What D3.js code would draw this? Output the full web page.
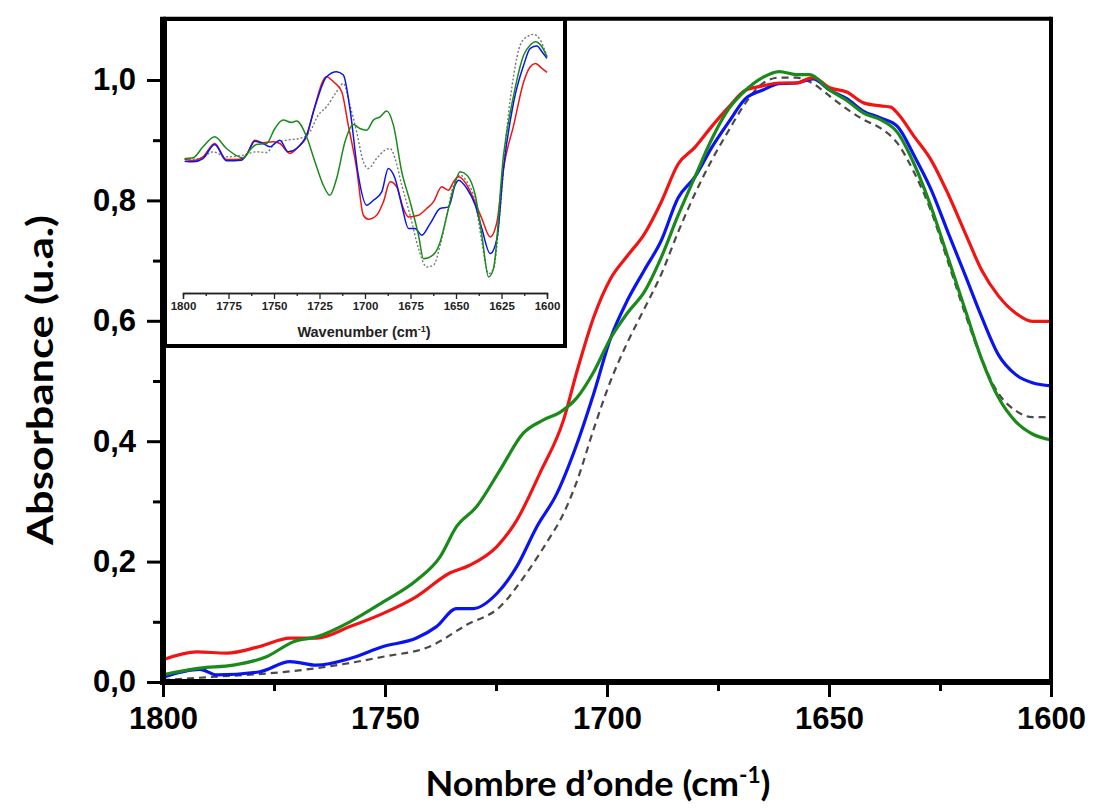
<!DOCTYPE html>
<html><head><meta charset="utf-8">
<script src="https://cdn.jsdelivr.net/npm/d3@7"></script>
<style>body{margin:0;background:#fff;}</style>
</head><body>
<svg id="c" width="1094" height="809"></svg>
<script>
// ---------- DATA (main chart: wavenumber cm-1 / absorbance) ----------
const redWn   = [1800,1792.4,1785.7,1778.2,1771.4,1765.4,1757.9,1750.4,1742.9,1735.4,1730.9,1724.8,1720.3,1715.1,1709.8,1706.8,1703.0,1699.2,1695.4,1691.6,1687.8,1684.0,1680.2,1676.4,1672.6,1668.8,1665.0,1661.2,1657.4,1653.6,1649.8,1646.0,1642.2,1638.4,1636.1,1634.6,1630.8,1627.0,1623.2,1619.4,1615.6,1611.8,1608.0,1604.2,1600];
const redAbs  = [0.037,0.050,0.048,0.059,0.073,0.073,0.092,0.114,0.142,0.181,0.194,0.225,0.269,0.347,0.435,0.515,0.606,0.670,0.708,0.744,0.797,0.860,0.888,0.923,0.955,0.983,0.990,0.995,0.995,1.004,0.987,0.980,0.962,0.957,0.955,0.945,0.906,0.867,0.811,0.747,0.684,0.641,0.613,0.599,0.599];

const blueWn  = [1800,1791.7,1787.9,1778.2,1771.4,1765.4,1757.9,1750.4,1742.9,1738.4,1733.9,1730.1,1724.8,1720.3,1715.8,1711.3,1706.8,1703.0,1699.2,1695.4,1691.6,1687.8,1684.0,1680.2,1676.4,1672.6,1668.8,1665.0,1661.2,1657.4,1653.6,1649.8,1646.0,1642.2,1638.4,1634.6,1630.8,1627.0,1623.2,1619.4,1615.6,1611.8,1608.0,1604.2,1600];
const blueAbs = [0.008,0.021,0.012,0.017,0.034,0.028,0.039,0.059,0.073,0.092,0.122,0.122,0.147,0.192,0.258,0.313,0.395,0.479,0.571,0.634,0.684,0.733,0.804,0.839,0.888,0.930,0.969,0.983,0.994,0.995,1.002,0.983,0.969,0.948,0.937,0.923,0.874,0.818,0.747,0.677,0.606,0.543,0.511,0.497,0.492];

const greenWn  = [1800,1791.7,1784.2,1776.7,1770.6,1765.4,1757.9,1750.4,1742.9,1737.6,1733.9,1729.4,1724.1,1718.9,1714.4,1710.6,1706.8,1703.0,1699.2,1695.4,1691.6,1687.8,1684.0,1680.2,1676.4,1672.6,1668.8,1665.0,1661.2,1657.4,1654.4,1649.8,1646.0,1642.2,1638.4,1634.6,1630.8,1627.0,1623.2,1619.4,1615.6,1611.8,1608.0,1604.2,1600];
const greenAbs = [0.012,0.023,0.028,0.042,0.067,0.075,0.100,0.133,0.169,0.208,0.258,0.291,0.352,0.413,0.435,0.448,0.472,0.515,0.571,0.613,0.648,0.705,0.775,0.839,0.902,0.952,0.983,1.004,1.014,1.009,1.009,0.983,0.966,0.945,0.934,0.913,0.860,0.789,0.705,0.620,0.536,0.472,0.433,0.412,0.402];

const grayWn  = [1800,1787.9,1776.7,1765.4,1750.4,1739.9,1731.6,1724.1,1718.1,1712.8,1710.6,1706.8,1703.0,1699.2,1695.4,1691.6,1687.8,1684.0,1680.2,1676.4,1672.6,1668.8,1665.0,1661.2,1657.4,1653.6,1649.8,1646.0,1642.2,1638.4,1634.6,1630.8,1627.0,1623.2,1619.4,1615.6,1611.8,1608.0,1604.2,1600];
const grayAbs = [0.003,0.009,0.014,0.023,0.042,0.059,0.095,0.125,0.181,0.241,0.268,0.333,0.420,0.500,0.564,0.620,0.677,0.747,0.811,0.867,0.916,0.962,0.994,1.004,1.004,0.994,0.973,0.952,0.934,0.920,0.895,0.846,0.782,0.698,0.613,0.536,0.479,0.451,0.440,0.440];

const xMajorTicks = [1800,1750,1700,1650,1600];
const xMinorTicks = [1775,1725,1675,1625];
const yMajorTicks = [0,0.2,0.4,0.6,0.8,1.0];
const yMajorLabels = ["0,0","0,2","0,4","0,6","0,8","1,0"];
const yMinorTicks = [0.1,0.3,0.5,0.7,0.9];

// ---------- DATA (inset: second derivative, arbitrary units) ----------
const inRedWn = [1799.1,1794.5,1789.0,1782.6,1776.1,1768.8,1765.1,1760.6,1756.0,1750.5,1746.8,1741.3,1735.8,1732.1,1728.4,1721.1,1717.4,1712.8,1709.2,1704.6,1700.9,1698.2,1693.6,1689.9,1686.2,1682.6,1678.9,1676.1,1670.6,1666.1,1662.4,1657.8,1654.1,1651.4,1648.6,1644.0,1640.4,1635.8,1631.2,1627.5,1623.9,1618.3,1612.8,1609.2,1606.4,1602.8,1600.0];
const inRedV  = [-0.02,-0.06,0.05,0.45,-0.03,-0.02,0.10,0.55,0.47,0.50,0.45,0.15,0.40,0.65,1.40,2.45,2.30,2.00,1.00,-0.30,-1.70,-1.82,-1.70,-1.30,-0.70,-0.85,-1.50,-1.75,-1.70,-1.50,-1.30,-0.85,-0.95,-0.70,-0.55,-0.80,-1.20,-1.80,-2.35,-1.90,-0.30,1.00,2.30,2.75,2.85,2.70,2.58];

const inBlueWn = [1799.1,1794.5,1789.0,1782.6,1776.1,1767.9,1764.2,1760.6,1756.0,1752.3,1746.8,1742.2,1737.6,1732.1,1727.5,1721.1,1715.6,1711.9,1708.3,1703.7,1699.1,1695.4,1690.8,1687.2,1683.5,1679.8,1676.1,1672.5,1668.8,1664.2,1658.7,1654.1,1650.5,1648.6,1644.0,1639.4,1635.8,1631.2,1627.5,1623.9,1618.3,1612.8,1609.2,1605.5,1602.8,1600.0];
const inBlueV  = [-0.08,-0.10,0.00,0.42,-0.07,-0.05,0.20,0.52,0.45,0.35,0.55,0.20,0.30,0.70,1.55,2.45,2.60,2.50,1.50,-0.50,-1.40,-1.25,-1.00,-0.30,-0.60,-1.40,-2.10,-2.10,-2.30,-1.95,-1.50,-1.45,-0.80,-0.65,-0.90,-1.40,-2.10,-2.85,-2.40,-0.30,1.70,2.80,3.30,3.37,3.20,3.00];

const inGreenWn = [1799.1,1794.5,1789.0,1782.6,1776.1,1767.0,1763.3,1759.6,1754.1,1749.5,1745.0,1740.4,1737.6,1732.1,1727.5,1722.9,1719.3,1715.6,1711.0,1706.4,1702.8,1699.1,1695.4,1691.7,1688.1,1684.4,1679.8,1675.2,1670.6,1667.9,1662.4,1658.7,1655.0,1651.4,1647.7,1644.0,1639.4,1635.8,1632.1,1629.4,1623.9,1618.3,1612.8,1609.2,1606.4,1602.8,1600.0];
const inGreenV  = [0.00,0.02,0.35,0.65,0.30,0.02,0.25,0.42,0.45,0.90,1.15,1.08,1.12,0.65,-0.10,-0.80,-1.10,-0.60,0.50,1.02,0.90,0.85,1.15,1.25,1.42,1.00,-0.40,-1.30,-2.30,-3.00,-2.88,-2.50,-1.70,-0.90,-0.40,-0.50,-1.10,-2.30,-3.55,-3.30,0.10,1.90,3.10,3.40,3.50,3.35,3.05];

const inGrayWn = [1799.1,1790.8,1783.5,1776.1,1767.0,1759.6,1754.1,1749.5,1743.1,1735.8,1730.3,1725.7,1721.1,1715.6,1711.9,1708.3,1704.6,1700.9,1698.2,1693.6,1689.0,1686.2,1683.5,1679.8,1675.2,1670.6,1666.1,1662.4,1658.7,1655.0,1651.4,1647.7,1644.0,1639.4,1635.8,1632.1,1629.4,1625.7,1622.0,1618.3,1614.7,1611.0,1607.3,1603.7,1600.0];
const inGrayV  = [-0.02,0.00,0.20,0.05,0.10,0.20,0.18,0.45,0.55,0.60,0.80,1.30,1.55,2.00,2.25,1.60,0.80,-0.10,-0.30,0.00,0.25,0.30,0.00,-0.80,-1.70,-2.70,-3.25,-3.20,-2.60,-1.70,-0.80,-0.50,-0.70,-1.30,-2.50,-3.45,-3.30,-1.50,0.90,2.50,3.40,3.65,3.72,3.55,3.05];

const inTicks = [1800,1775,1750,1725,1700,1675,1650,1625,1600];
const inMinor = [1787.5,1762.5,1737.5,1712.5,1687.5,1662.5,1637.5,1612.5];

// ---------- DRAW ----------
const svg = d3.select("#c");
const x = d3.scaleLinear().domain([1800,1600]).range([163,1051]);
const y = d3.scaleLinear().domain([0,1.1]).range([682,19.8]);

const zip = (a,b)=>a.map((v,i)=>[v,b[i]]);
const line = d3.line().x(d=>x(d[0])).y(d=>y(d[1])).curve(d3.curveMonotoneX);

const series = [
  {wn:grayWn, v:grayAbs, color:"#4a4a4a", w:2.2, dash:"7,5"},
  {wn:blueWn, v:blueAbs, color:"#0a14f0", w:3.2},
  {wn:redWn, v:redAbs, color:"#f01414", w:3.2},
  {wn:greenWn, v:greenAbs, color:"#1a8a1a", w:3.2}
];
series.forEach(s=>{
  svg.append("path").datum(zip(s.wn,s.v)).attr("d",line)
    .attr("fill","none").attr("stroke",s.color).attr("stroke-width",s.w)
    .attr("stroke-dasharray",s.dash||null).attr("stroke-linejoin","round");
});

// axes
const tickFont = "'Liberation Sans', Arial, sans-serif";
const gx = svg.append("g").attr("transform","translate(0,682)");
gx.call(d3.axisBottom(x).tickValues(xMajorTicks).tickSize(15).tickPadding(10).tickFormat(d3.format("d")));
gx.append("g").call(d3.axisBottom(x).tickValues(xMinorTicks).tickSize(9).tickFormat(""));
const gy = svg.append("g").attr("transform","translate(163,0)");
gy.call(d3.axisLeft(y).tickValues(yMajorTicks).tickSize(16).tickPadding(11).tickFormat((d,i)=>yMajorLabels[i]));
gy.append("g").call(d3.axisLeft(y).tickValues(yMinorTicks).tickSize(10).tickFormat(""));
svg.selectAll(".domain").remove();
svg.selectAll(".tick line").attr("stroke","#000").attr("stroke-width",3);
svg.selectAll(".tick text").attr("font-family",tickFont).attr("font-weight","bold")
  .attr("font-size",31).attr("fill","#000");

// frame
const fr = svg.append("g").attr("stroke","#000").attr("fill","none");
fr.append("line").attr("x1",x(1800)).attr("x2",x(1600)).attr("y1",y(1.1)-1).attr("y2",y(1.1)-1).attr("stroke-width",4);
fr.append("line").attr("x1",x(1600)).attr("x2",x(1600)).attr("y1",y(1.1)-3).attr("y2",y(0)).attr("stroke-width",4);
fr.append("line").attr("x1",x(1800)-3).attr("x2",x(1600)+2).attr("y1",y(0)).attr("y2",y(0)).attr("stroke-width",6);
fr.append("line").attr("x1",x(1800)).attr("x2",x(1800)).attr("y1",y(1.1)-3).attr("y2",y(0)+3).attr("stroke-width",6);

// titles
const titleFont = "Lato, 'Open Sans', sans-serif";
svg.append("text").attr("x",598).attr("y",796).attr("text-anchor","middle")
  .attr("font-family",titleFont).attr("font-weight","bold").attr("font-size",35)
  .attr("textLength",345).attr("lengthAdjust","spacingAndGlyphs")
  .html('Nombre d’onde (cm<tspan dy="-13" font-size="22">-1</tspan><tspan dy="13">)</tspan>');
svg.append("text").attr("transform","translate(53,380) rotate(-90)").attr("text-anchor","middle")
  .attr("font-family",titleFont).attr("font-weight","bold").attr("font-size",37)
  .attr("textLength",330).attr("lengthAdjust","spacingAndGlyphs")
  .text("Absorbance (u.a.)");

// ---------- INSET ----------
const ix = d3.scaleLinear().domain([1800,1600]).range([183,547]);
const iy = d3.scaleLinear().domain([-4,4.15]).range([292,20]);
const ins = svg.append("g");
ins.append("rect").attr("x",165).attr("y",19).attr("width",400).attr("height",327)
  .attr("fill","#fff").attr("stroke","#000").attr("stroke-width",4);
const iline = d3.line().x(d=>ix(d[0])).y(d=>iy(d[1])).curve(d3.curveMonotoneX);
const iseries = [
  {wn:inGrayWn, v:inGrayV, color:"#777", w:1.4, dash:"2,2"},
  {wn:inRedWn, v:inRedV, color:"#f01414", w:1.5},
  {wn:inBlueWn, v:inBlueV, color:"#0a14f0", w:1.5},
  {wn:inGreenWn, v:inGreenV, color:"#1a8a1a", w:1.5}
];
iseries.forEach(s=>{
  ins.append("path").datum(zip(s.wn,s.v)).attr("d",iline)
    .attr("fill","none").attr("stroke",s.color).attr("stroke-width",s.w)
    .attr("stroke-dasharray",s.dash||null);
});
const igx = ins.append("g").attr("transform","translate(0,293)");
igx.call(d3.axisBottom(ix).tickValues(inTicks).tickSize(6).tickPadding(3).tickFormat(d3.format("d")));
igx.append("g").call(d3.axisBottom(ix).tickValues(inMinor).tickSize(3).tickFormat(""));
igx.selectAll(".domain").attr("stroke","#222").attr("stroke-width",1.3);
igx.selectAll(".tick line").attr("stroke","#222").attr("stroke-width",1.3);
igx.selectAll(".tick text").attr("font-family",tickFont).attr("font-weight","bold")
  .attr("font-size",11.5).attr("fill","#222");
ins.append("text").attr("x",364).attr("y",337).attr("text-anchor","middle")
  .attr("font-family",tickFont).attr("font-weight","bold").attr("font-size",14.5).attr("fill","#222")
  .html('Wavenumber (cm<tspan dy="-5" font-size="9">-1</tspan><tspan dy="5">)</tspan>');
</script>
</body></html>
